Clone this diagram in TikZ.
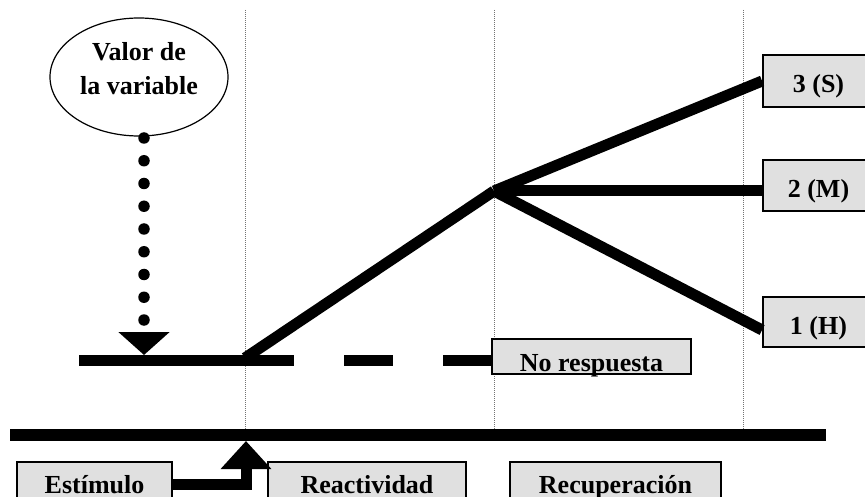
\documentclass[tikz,border=0pt]{standalone}
\usepackage{fontspec}
\setmainfont{Liberation Serif}
\usetikzlibrary{shapes.geometric,arrows.meta,calc}
\definecolor{boxgray}{RGB}{224,224,224}
\begin{document}
\begin{tikzpicture}[x=1pt,y=-1pt,
  lbl/.style={font=\bfseries\fontsize{26}{34}\selectfont},
  box/.style={lbl, draw=black, line width=1.8pt, fill=boxgray, rectangle, inner sep=0pt, text depth=0pt},
  bar/.style={line width=11pt, line cap=butt},
  guide/.style={black!55, line width=0.8pt, dash pattern=on 1pt off 1pt}
]
\useasboundingbox (0,0) rectangle (865,497);
\clip (0,0) rectangle (865,497);
% guide lines
\draw[guide] (245,10) -- (245,429);
\draw[guide] (494,10) -- (494,429);
\draw[guide] (743,10) -- (743,429);
% bottom bar
\draw[line width=12pt] (10,435) -- (826,435);
% nodes
\node[draw, ellipse, line width=1.2pt, minimum width=178pt, minimum height=118pt, inner sep=0pt] (var) at (139,77) {};
\node[lbl, align=center, inner sep=0pt] (vartxt) at (139,69) {Valor de\\la variable};
\node[box, minimum width=111pt, minimum height=52pt, text height=24pt] (s3) at (818.5,81) {3 (S)};
\node[box, minimum width=111pt, minimum height=51pt, text height=24pt] (s2) at (818.5,185.5) {2 (M)};
\node[box, minimum width=111pt, minimum height=50pt, text height=24pt] (s1) at (818.5,322) {1 (H)};
\node[box, minimum width=199pt, minimum height=35pt, text height=29pt] (nr) at (591.5,356.5) {No respuesta};
\node[box, minimum width=155pt, minimum height=44pt, text height=18pt] (est) at (94.5,484) {Estímulo};
\node[box, minimum width=198pt, minimum height=44pt, text height=18pt] (rea) at (367,484) {Reactividad};
\node[box, minimum width=211pt, minimum height=44pt, text height=18pt] (rec) at (615.5,484) {Recuperación};
% coordinates
\coordinate (h0) at (79,360);
\coordinate (r0) at (245,358);
\coordinate (j) at (494,191);
\coordinate (vtop) at (144,138);
\coordinate (vtip) at (144,355);
\coordinate (stim) at (246,441);
% dashed baseline
\draw[bar, dash pattern=on 215pt off 50pt on 49pt off 50pt on 60pt off 10pt] (h0) -- (h0 -| nr.west);
% response lines
\draw[bar] (r0) -- (j);
\draw[bar] (j) -- (s3.west);
\draw[bar] (j) -- (j -| s2.west);
\draw[bar] (j) -- ($(s1.west)+(0,8)$);
% dotted arrow from variable
\draw[line width=11.5pt, line cap=round, dash pattern=on 0pt off 22.75pt, -{Triangle[width=50pt,length=23pt]}] (vtop) -- (vtip);
% stimulus arrow
\draw[line width=11pt, -{Triangle[width=49pt,length=28pt]}] (est.east) -| (stim);
\end{tikzpicture}
\end{document}
